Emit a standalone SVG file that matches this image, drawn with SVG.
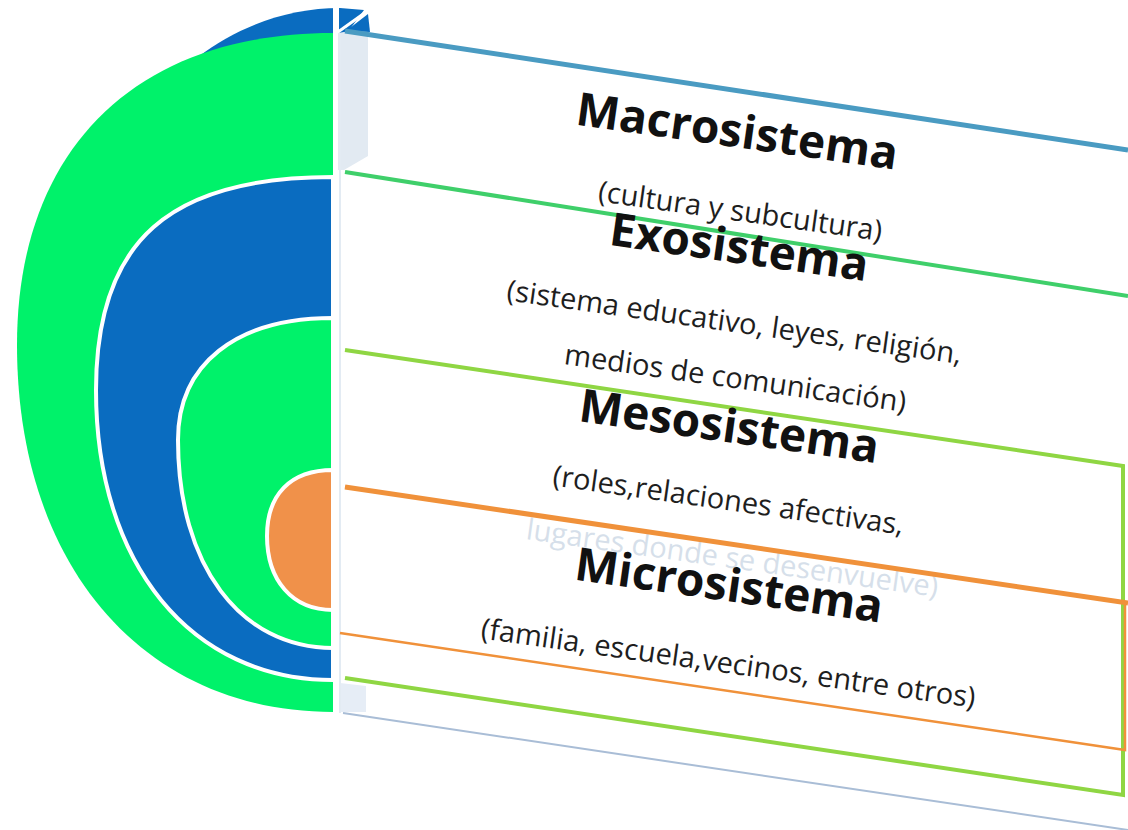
<svg xmlns="http://www.w3.org/2000/svg" width="1128" height="830" viewBox="0 0 1128 830">
<style>
.title{font-family:"Open Sans","Liberation Sans",sans-serif;font-weight:bold;font-size:46px;fill:#111111;text-anchor:middle}
.sub{font-family:"Open Sans","Liberation Sans",sans-serif;font-size:29px;fill:#1e1e1e;text-anchor:middle}
.faint{font-family:"Open Sans","Liberation Sans",sans-serif;font-size:29px;fill:#d6dfea;text-anchor:middle}
.ring{stroke:#ffffff;stroke-width:4}
.edge{fill:none;stroke-linecap:butt}
</style>
<rect width="1128" height="830" fill="#ffffff"/>
<g id="rings">
  <path d="M198,57 C240,25 290,8 340,8 L364,10 L342,40 L240,62 Z" fill="#0a6cc0"/>
  <path id="macro-ring" d="M333,33 C135,33 17,150 17,345 C17,565 143,712 333,712 Z" fill="#00f26a"/>
  <path id="exo-ring" class="ring" d="M333,177 C170,177 96,240 96,390 C96,564 191,680 333,680 Z" fill="#0a6cc0"/>
  <path id="meso-ring" class="ring" d="M333,318 C235,318 178,365 178,440 C178,565 240,648 333,648 Z" fill="#00f26a"/>
  <path id="micro-ring" class="ring" d="M333,470 C290,470 267,495 267,536 C267,580 292,610 333,610 Z" fill="#f0914a"/>
  <rect x="333" y="0" width="6" height="830" fill="#ffffff"/>
</g>
<g id="box">
  <polygon points="338,33 368,28 368,156 344,170 338,170" fill="#e2eaf2"/>
  <polygon points="340,683 366,686 366,712 340,712" fill="#e6edf6"/>
  <line x1="340" y1="33" x2="340" y2="713" stroke="#e3ebf3" stroke-width="2"/>
  <line x1="338" y1="32" x2="366" y2="12" stroke="#ffffff" stroke-width="3"/>
  <polygon points="346,31 368,14 370,32" fill="#0a6cc0"/>
</g>
<text class="faint" transform="translate(731,568) rotate(8)">lugares donde se desenvuelve)</text>
<g id="connectors">
  <line class="edge" x1="345" y1="31" x2="1128" y2="150" stroke="#4a9bc2" stroke-width="5"/>
  <line class="edge" x1="345" y1="172" x2="1128" y2="296" stroke="#3fcf6a" stroke-width="4"/>
  <polyline class="edge" points="345,350 1123,466 1123,795 345,678" stroke="#8fd643" stroke-width="4"/>
  <polyline class="edge" points="345,487 1125,603 1125,750 340,633" stroke="#f0913a" stroke-width="2.5"/>
  <line class="edge" x1="345" y1="487" x2="1128" y2="603" stroke="#f0913a" stroke-width="5"/>
  <line class="edge" x1="343" y1="713" x2="1128" y2="830" stroke="#a9bdd6" stroke-width="2"/>
</g>
<g id="macrosistema">
  <text class="title" transform="translate(735,147) rotate(8)">Macrosistema</text>
  <text class="sub" transform="translate(739,221) rotate(8)">(cultura y subcultura)</text>
</g>
<g id="exosistema">
  <text class="title" transform="translate(737,263) rotate(8)">Exosistema</text>
  <text class="sub" transform="translate(733,332) rotate(8)">(sistema educativo, leyes, religión,</text>
  <text class="sub" transform="translate(734,388) rotate(8)">medios de comunicación)</text>
</g>
<g id="mesosistema">
  <text class="title" transform="translate(727,442) rotate(8)">Mesosistema</text>
  <text class="sub" transform="translate(727,510) rotate(8)">(roles,relaciones afectivas,</text>
</g>
<g id="microsistema">
  <text class="title" transform="translate(727,601) rotate(8)">Microsistema</text>
  <text class="sub" transform="translate(727,673) rotate(8)">(familia, escuela,vecinos, entre otros)</text>
</g>
</svg>
